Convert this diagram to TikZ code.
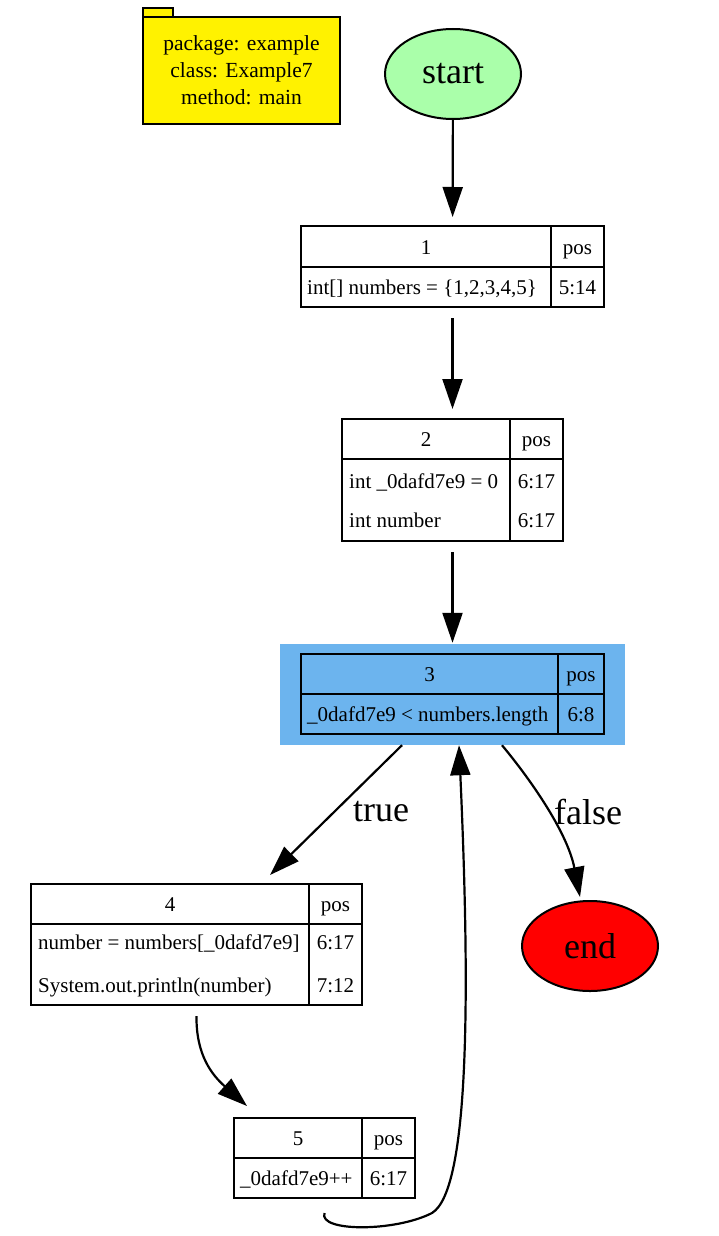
\documentclass[tikz,border=0pt]{standalone}
\usepackage{fontspec}
\setmainfont{Liberation Serif}
\usetikzlibrary{shapes.geometric,arrows.meta,positioning}
\definecolor{startgreen}{HTML}{AAFFAA}
\definecolor{loopblue}{HTML}{6CB4EE}

\begin{document}
\begin{tikzpicture}[x=1pt,y=-1pt,
	edge/.style = {line width=2.2pt,-{Triangle[length=30pt,width=20pt]}},
	term node/.style = {ellipse,draw,line width=2pt,minimum width=136pt,minimum height=90pt,font=\fontsize{36}{43}\selectfont},
	table node/.style = {draw,line width=2pt,inner sep=0pt},
	cell/.style = {inner sep=0pt,text height=14pt,text depth=0pt,font=\fontsize{21}{26}\selectfont},
	rule/.style = {line width=2pt},
	label node/.style = {font=\fontsize{36}{43}\selectfont},
	note node/.style = {draw,line width=2pt,fill=yellow}]

	\useasboundingbox (0,0) rectangle (718,1236);

	% method note
	\node[note node,minimum width=30pt,minimum height=9pt,inner sep=0pt] (notetab) at (158,12.5) {};
	\node[note node,minimum width=197pt,minimum height=107pt,align=center,
		font=\fontsize{21.5}{27}\selectfont] (note) at (241.5,70.5) {package: example\\class: Example7\\method: main};

	% start / end
	\node[term node,fill=startgreen] (start) at (453,74) {start};
	\node[term node,fill=red] (end) at (590,946) {end};

	% block 1
	\node[table node,minimum width=303pt,minimum height=81pt] (n1) at (452.5,266.5) {};
	\draw[rule] (301,267) -- (604,267);
	\draw[rule] (551,226) -- (551,307);
	\node[cell] (n1h) at (426,247) {1};
	\node[cell] (n1p) at (577.5,247) {pos};
	\node[cell,anchor=west] (n1a) at (307,287) {int[] numbers = \{1,2,3,4,5\}};
	\node[cell] (n1ap) at (577.5,287) {5:14};

	% block 2
	\node[table node,minimum width=221pt,minimum height=122pt] (n2) at (452.5,480) {};
	\draw[rule] (342,459) -- (563,459);
	\draw[rule] (510,419) -- (510,541);
	\node[cell] (n2h) at (426,439) {2};
	\node[cell] (n2p) at (536.5,439) {pos};
	\node[cell,anchor=west] (n2a) at (349,481) {int \_0dafd7e9 = 0};
	\node[cell] (n2ap) at (536.5,481) {6:17};
	\node[cell,anchor=west] (n2b) at (349,520) {int number};
	\node[cell] (n2bp) at (536.5,520) {6:17};

	% block 3 (loop head)
	\node[fill=loopblue,minimum width=345pt,minimum height=101pt,inner sep=0pt] (n3) at (452.5,694.5) {};
	\node[table node,fill=loopblue,minimum width=303pt,minimum height=80pt] (n3t) at (452.5,694) {};
	\draw[rule] (301,694) -- (604,694);
	\draw[rule] (558,654) -- (558,734);
	\node[cell] (n3h) at (429.5,674) {3};
	\node[cell] (n3p) at (581,674) {pos};
	\node[cell,anchor=west] (n3a) at (307,714) {\_0dafd7e9 < numbers.length};
	\node[cell] (n3ap) at (581,714) {6:8};

	% block 4
	\node[table node,minimum width=331pt,minimum height=121pt] (n4) at (196.5,944.5) {};
	\draw[rule] (31,924) -- (362,924);
	\draw[rule] (309,884) -- (309,1005);
	\node[cell] (n4h) at (170,904) {4};
	\node[cell] (n4p) at (335.5,904) {pos};
	\node[cell,anchor=west] (n4a) at (38,942) {number = numbers[\_0dafd7e9]};
	\node[cell] (n4ap) at (335.5,942) {6:17};
	\node[cell,anchor=west] (n4b) at (38,985) {System.out.println(number)};
	\node[cell] (n4bp) at (335.5,985) {7:12};

	% block 5
	\node[table node,minimum width=181pt,minimum height=80pt] (n5) at (324.5,1158) {};
	\draw[rule] (234,1158) -- (415,1158);
	\draw[rule] (362,1118) -- (362,1198);
	\node[cell] (n5h) at (298,1138) {5};
	\node[cell] (n5p) at (388.5,1138) {pos};
	\node[cell,anchor=west] (n5a) at (240,1178) {\_0dafd7e9++};
	\node[cell] (n5ap) at (388.5,1178) {6:17};

	% edge labels
	\node[label node] (ltrue) at (381,812) {true};
	\node[label node] (lfalse) at (588,812) {false};

	% edges
	\draw[edge,shorten >=8pt] (start) -- (n1);
	\draw[edge,shorten <=10pt,shorten >=9pt] (n1) -- (n2);
	\draw[edge,shorten <=10pt,shorten >=1pt] (n2) -- (n3);
	\draw[edge] ([xshift=-50.5pt]n3.south) -- ([xshift=73.5pt,yshift=8pt]n4.north);
	\draw[edge] ([xshift=49.5pt]n3.south) .. controls (535,785) and (568,835) .. ([xshift=-10pt,yshift=3pt]end.north);
	\draw[edge] ([yshift=-10pt]n4.south) .. controls (196,1055) and (212,1075) .. ([xshift=-77.5pt,yshift=11pt]n5.north);
	\draw[edge] ([yshift=-14pt]n5.south) .. controls (318,1232) and (395,1232) .. (432,1213)
		.. controls (470,1190) and (470,990) .. ([xshift=6.5pt]n3.south);
\end{tikzpicture}
\end{document}
